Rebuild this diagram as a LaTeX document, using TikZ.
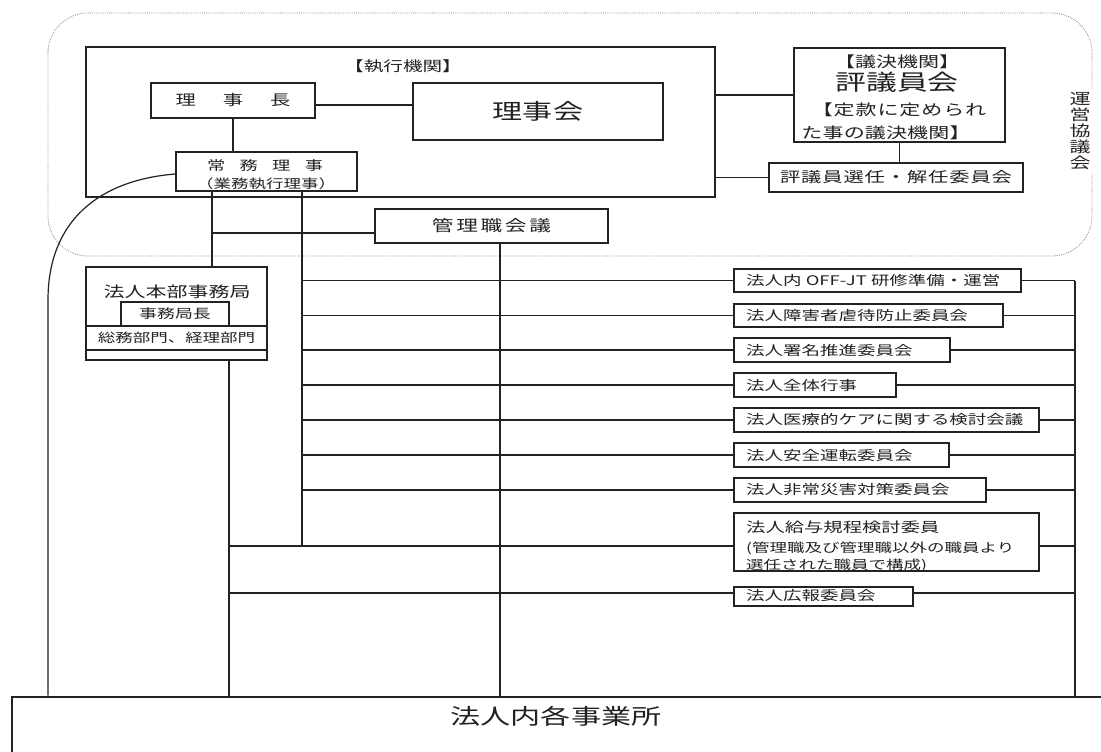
\documentclass[tikz,border=0pt]{standalone}
\usepackage{fontspec}
\setmainfont{Noto Sans CJK JP}[FakeStretch=1.4]
\definecolor{ink}{HTML}{222222}
\definecolor{framegray}{HTML}{8A8A8A}
\newcommand\fsz[1]{\fontsize{#1pt}{#1pt}\selectfont}
\newcommand\lsp[1]{\addfontfeatures{LetterSpace=#1}}
\tikzset{
  thickbox/.style={draw=ink, line width=2.6pt, inner sep=0pt, text=ink},
  thinbox/.style={draw=ink, line width=1.3pt, inner sep=0pt, text=ink},
  cbox/.style={draw=ink, line width=1.5pt, inner sep=0pt, anchor=west},
  ctxt/.style={anchor=west, inner sep=0pt, text=ink, font=\fsz{13.2}},
  txt/.style={inner sep=0pt, text=ink},
  conn/.style={draw=ink, line width=1.2pt},
  frame/.style={draw=framegray, line width=0.8pt, dash pattern=on 0.8pt off 1.1pt, rounded corners=40pt}
}
\begin{document}
\begin{tikzpicture}[x=1pt,y=-1pt]
\useasboundingbox (0,0) rectangle (1101,752);
\fill[white] (0,0) rectangle (1101,752);
\clip (0,0) rectangle (1101,752);

% dotted frame (運営協議会)
\draw[frame] (48,13) rectangle (1092,256);
\node[txt, fill=white, inner xsep=5pt, inner ysep=3pt, align=center, font={\fontsize{15pt}{16pt}\selectfont}] (unei) at (1080,131) {運\\営\\協\\議\\会};

% executive organ
\node[thickbox, minimum width=629pt, minimum height=150pt] (exec) at (400.5,122) {};
\node[txt, font=\fsz{14}] (execlbl) at (403,66) {【執行機関】};
\node[thinbox, minimum width=164pt, minimum height=35pt, font=\fsz{14.5}] (rijicho) at (233,100.5) {理\hspace{27pt}事\hspace{27pt}長};
\node[thinbox, minimum width=250pt, minimum height=57pt, font=\fsz{21.5}] (rijikai) at (538,111.5) {理事会};
\node[thinbox, minimum width=181pt, minimum height=39pt] (jomu) at (266.5,171.5) {};
\node[txt, font=\fsz{13}] (jomu1) at (265,166) {常\hspace{14.4pt}務\hspace{14.4pt}理\hspace{14.4pt}事};
\node[txt, font=\fsz{12.5}] (jomu2) at (266,184) {（業務執行理事）};

% council
\node[thickbox, minimum width=211pt, minimum height=94pt] (hyogi) at (899.5,95) {};
\node[txt, font=\fsz{15}] (hy1) at (897,62) {【議決機関】};
\node[txt, font=\fsz{22}] (hy2) at (897,82) {評議員会};
\node[txt, font={\fsz{15}\lsp{6}}] (hy3) at (899,110) {【定款に定められ};
\node[txt, font={\fsz{15}\lsp{1}}] (hy4) at (886,133) {た事の議決機関】};
\node[thickbox, minimum width=254pt, minimum height=29pt, font={\fsz{14.5}\lsp{6}}] (senin) at (896,177.5) {評議員選任・解任委員会};

% management meeting
\node[thickbox, minimum width=233pt, minimum height=34pt, font={\fsz{15.5}\lsp{17}}] (kanri) at (491.5,226) {管理職会議};

% head office
\node[thickbox, minimum width=181pt, minimum height=93pt] (honbu) at (176.5,313.5) {};
\node[txt, font=\fsz{15}] (honbut) at (177,292) {法人本部事務局};
\node[thinbox, minimum width=108pt, minimum height=24pt, font=\fsz{12.8}] (kyokucho) at (175,314) {事務局長};
\node[thinbox, minimum width=181pt, minimum height=24pt, font=\fsz{12.5}] (soumu) at (176.5,338) {総務部門、経理部門};

% bottom box
\node[thickbox, minimum width=1108pt, minimum height=86pt] (bottom) at (566,740) {};
\node[txt, font=\fsz{21.5}] (bottomt) at (556,716) {法人内各事業所};

% committees
\node[cbox, minimum width=287pt, minimum height=23pt] (c1) at (733,280.5) {};
\node[ctxt] (t1) at (746,280.5) {法人内 OFF-JT 研修準備・運営};
\node[cbox, minimum width=269pt, minimum height=23pt] (c2) at (733,315.5) {};
\node[ctxt] (t2) at (746,315.5) {法人障害者虐待防止委員会};
\node[cbox, minimum width=216pt, minimum height=24pt] (c3) at (733,350) {};
\node[ctxt] (t3) at (746,350) {法人署名推進委員会};
\node[cbox, minimum width=162pt, minimum height=24pt] (c4) at (733,385) {};
\node[ctxt] (t4) at (746,385) {法人全体行事};
\node[cbox, minimum width=305pt, minimum height=24pt] (c5) at (733,420) {};
\node[ctxt] (t5) at (746,420) {法人医療的ケアに関する検討会議};
\node[cbox, minimum width=215pt, minimum height=24pt] (c6) at (733,455) {};
\node[ctxt] (t6) at (746,455) {法人安全運転委員会};
\node[cbox, minimum width=252pt, minimum height=24pt] (c7) at (733,490) {};
\node[ctxt] (t7) at (746,490) {法人非常災害対策委員会};
\node[cbox, minimum width=305pt, minimum height=58pt] (c8) at (733,542) {};
\node[ctxt, font=\fsz{13.8}] (t8a) at (746,527) {法人給与規程検討委員};
\node[ctxt, font=\fsz{12.5}] (t8b) at (746,548) {(管理職及び管理職以外の職員より};
\node[ctxt, font=\fsz{12.5}] (t8c) at (746,565) {選任された職員で構成)};
\node[cbox, minimum width=179pt, minimum height=19pt] (c9) at (733,596.5) {};
\node[ctxt] (t9) at (746,596) {法人広報委員会};

% bus coordinates
\coordinate (xA) at (212,0);
\coordinate (xB) at (229,0);
\coordinate (xC) at (302,0);
\coordinate (xD) at (500,0);
\coordinate (xE) at (1075,0);
\coordinate (xL) at (48,0);
\coordinate (y8) at (0,546);
\coordinate (y9) at (0,593);
\coordinate (lc) at (48,300);
\path (rijicho.east) ++(0,4.5) coordinate (r1);
\path (kanri.west) ++(0,7) coordinate (k1);
\path (jomu.west) ++(0,2.5) coordinate (j1);

% connectors
\draw[conn] (r1) -- (r1 -| rijikai.west);
\draw[conn] (rijicho.south) -- (rijicho.south |- jomu.north);
\draw[conn] (exec.east |- hyogi.west) -- (hyogi.west);
\draw[conn] (exec.east |- senin.west) -- (senin.west);
\draw[conn] (hyogi.south) -- (hyogi.south |- senin.north);
\draw[conn] (jomu.south -| xA) -- (honbu.north -| xA);
\draw[conn] (k1 -| xA) -- (k1);
\draw[conn] (jomu.south -| xC) -- (xC |- y8);
\draw[conn] (honbu.south -| xB) -- (bottom.north -| xB);
\draw[conn] (kanri.south -| xD) -- (bottom.north -| xD);
\foreach \c in {c1,c2,c3,c4,c5,c6,c7}{
  \draw[conn] (xC |- \c.west) -- (\c.west);
  \draw[conn] (\c.east) -- (\c.east -| xE);
}
\draw[conn] (xB |- y8) -- (c8.west |- y8);
\draw[conn] (c8.east |- y8) -- (xE |- y8);
\draw[conn] (xB |- y9) -- (c9.west |- y9);
\draw[conn] (c9.east |- y9) -- (xE |- y9);
\draw[conn] (xE |- c1.east) -- (bottom.north -| xE);
\draw[conn] (j1) .. controls (100,180) and (48,220) .. (lc) -- (bottom.north -| xL);
\end{tikzpicture}
\end{document}
